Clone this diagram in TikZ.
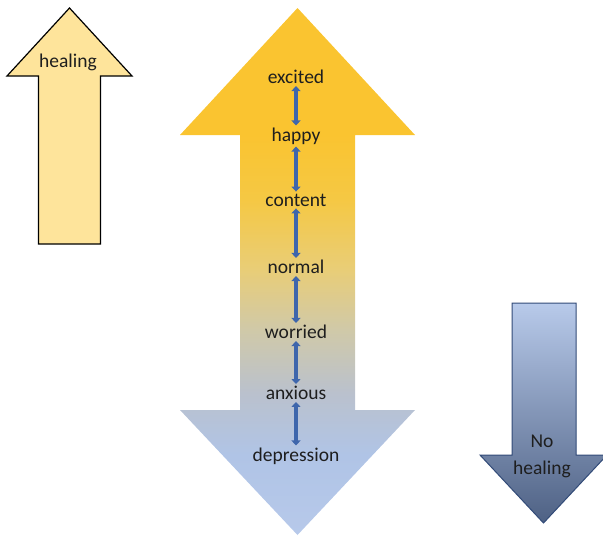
\documentclass[tikz,border=0pt]{standalone}
\usepackage{fontspec}
\setmainfont{Carlito}
\usetikzlibrary{arrows.meta}
\definecolor{txt}{RGB}{30,30,30}
\definecolor{arrblue}{RGB}{62,102,172}
\definecolor{healfill}{RGB}{254,228,155}
\definecolor{nhtop}{RGB}{184,202,234}
\definecolor{nhbot}{RGB}{78,97,132}
\definecolor{nhdraw}{RGB}{50,75,120}
\definecolor{bA}{RGB}{183,201,234}
\definecolor{bB}{RGB}{176,196,230}
\definecolor{bC}{RGB}{186,193,205}
\definecolor{bD}{RGB}{208,201,168}
\definecolor{bE}{RGB}{233,205,118}
\definecolor{bF}{RGB}{245,200,68}
\definecolor{bG}{RGB}{250,196,48}
\pgfdeclareverticalshading{bigshade}{100bp}{color(0bp)=(bA); color(25bp)=(bA); color(32.6bp)=(bB); color(38.5bp)=(bC); color(44.5bp)=(bD); color(50.3bp)=(bE); color(56.8bp)=(bF); color(63bp)=(bG); color(75bp)=(bG); color(100bp)=(bG)}
\begin{document}
\begin{tikzpicture}[x=1pt,y=-1pt,
  lbl/.style={font=\fontsize{19.5}{21}\selectfont, text=txt, inner sep=1pt},
  dbl/.style={draw=arrblue, line width=4.2pt, shorten >=1pt, shorten <=1pt,
    {Triangle[width=9pt,length=5pt]}-{Triangle[width=9pt,length=5pt]}}]
\useasboundingbox (0,0) rectangle (603,536);
% left healing arrow
\draw[fill=healfill, draw=black, line width=1.2pt, line join=miter]
  (69.5,8) -- (132,76) -- (100.5,76) -- (100.5,244) -- (38.5,244) -- (38.5,76) -- (7,76) -- cycle;
\node[lbl] (heal) at (68,62) {healing};
% big double arrow
\shade[shading=bigshade]
  (297.5,8) -- (415,135) -- (355,135) -- (355,410) -- (415,410) -- (297.5,535)
  -- (180,410) -- (240,410) -- (240,135) -- (180,135) -- cycle;
% right no-healing arrow
\shade[top color=nhtop, bottom color=nhbot, draw=nhdraw, line width=1pt]
  (512,303) -- (576,303) -- (576,455) -- (607,455) -- (543.5,523) -- (480,455) -- (512,455) -- cycle;
\node[lbl] (no) at (542,441) {No};
\node[lbl] (nh) at (542,469) {healing};
% labels
\node[lbl] (excited) at (296,77) {excited};
\node[lbl] (happy) at (296,136) {happy};
\node[lbl] (content) at (296,200) {content};
\node[lbl] (normal) at (296,267) {normal};
\node[lbl] (worried) at (296,332) {worried};
\node[lbl] (anxious) at (296,393) {anxious};
\node[lbl] (depression) at (296,456) {depression};
\draw[dbl] (excited.south) -- (happy.north);
\draw[dbl] (happy.south) -- (content.north);
\draw[dbl] (content.south) -- (normal.north);
\draw[dbl] (normal.south) -- (worried.north);
\draw[dbl] (worried.south) -- (anxious.north);
\draw[dbl] (anxious.south) -- (depression.north);
\end{tikzpicture}
\end{document}
